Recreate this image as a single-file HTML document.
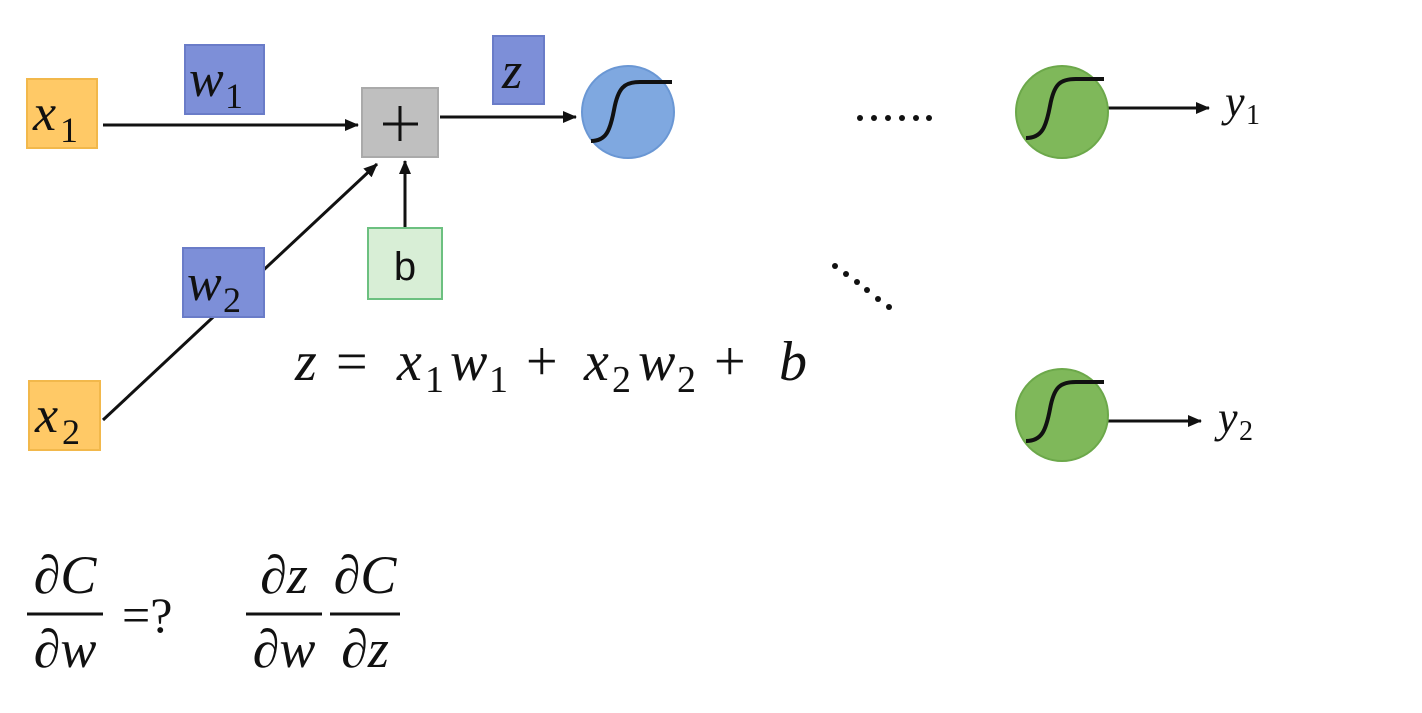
<!DOCTYPE html>
<html><head><meta charset="utf-8"><style>
html,body{margin:0;padding:0;background:#fff}
svg text{font-family:"Liberation Serif","DejaVu Serif",serif;fill:#111}
.i{font-style:italic}
</style></head><body>
<svg width="1422" height="708" viewBox="0 0 1422 708" xmlns="http://www.w3.org/2000/svg">
<defs>
<marker id="a" markerWidth="14" markerHeight="12" refX="13" refY="6" orient="auto" markerUnits="userSpaceOnUse"><path d="M0,0 L14,6 L0,12 z" fill="#111"/></marker>
</defs>
<line x1="103" y1="125" x2="358" y2="125" stroke="#111" stroke-width="3" marker-end="url(#a)"/>
<line x1="440" y1="117" x2="576" y2="117" stroke="#111" stroke-width="3" marker-end="url(#a)"/>
<line x1="405" y1="228" x2="405" y2="161" stroke="#111" stroke-width="3" marker-end="url(#a)"/>
<line x1="103" y1="420" x2="377" y2="164" stroke="#111" stroke-width="3" marker-end="url(#a)"/>
<line x1="1108" y1="108" x2="1209" y2="108" stroke="#111" stroke-width="3" marker-end="url(#a)"/>
<line x1="1108" y1="421" x2="1201" y2="421" stroke="#111" stroke-width="3" marker-end="url(#a)"/>
<rect x="27" y="79" width="70" height="69" fill="#FFC966" stroke="#F2B84B" stroke-width="2"/>
<text x="33" y="130" font-size="52" class="i">x</text><text x="60" y="142" font-size="36">1</text>
<rect x="29" y="381" width="71" height="69" fill="#FFC966" stroke="#F2B84B" stroke-width="2"/>
<text x="35" y="432" font-size="52" class="i">x</text><text x="62" y="444" font-size="36">2</text>
<rect x="185" y="45" width="79" height="69" fill="#7D8FD8" stroke="#6A7CC8" stroke-width="2"/>
<text x="189" y="96" font-size="52" class="i">w</text><text x="225" y="108" font-size="36">1</text>
<rect x="183" y="248" width="81" height="69" fill="#7D8FD8" stroke="#6A7CC8" stroke-width="2"/>
<text x="187" y="300" font-size="52" class="i">w</text><text x="223" y="312" font-size="36">2</text>
<rect x="493" y="36" width="51" height="68" fill="#7D8FD8" stroke="#6A7CC8" stroke-width="2"/>
<text x="502" y="88" font-size="52" class="i">z</text>
<rect x="362" y="88" width="76" height="69" fill="#BFBFBF" stroke="#AAAAAA" stroke-width="2"/>
<path d="M400,106 V141 M383,124 H418" stroke="#111" stroke-width="3"/>
<rect x="368" y="228" width="74" height="71" fill="#D8EED6" stroke="#6CC080" stroke-width="2"/>
<text x="405" y="280" font-size="40" text-anchor="middle" style="font-family:'Liberation Sans',sans-serif">b</text>
<circle cx="628" cy="112" r="46" fill="#7FA8E0" stroke="#6A97D4" stroke-width="2"/>
<path d="M591,141 C606,141 610,131 614,110 C618,88 624,82 640,82 L672,82" fill="none" stroke="#111" stroke-width="4"/>
<circle cx="1062" cy="112" r="46" fill="#7FB85A" stroke="#6CA84A" stroke-width="2"/>
<path d="M1026,138 C1042,138 1046,127 1050,106 C1054,84 1060,79 1076,79 L1104,79" fill="none" stroke="#111" stroke-width="4"/>
<circle cx="1062" cy="415" r="46" fill="#7FB85A" stroke="#6CA84A" stroke-width="2"/>
<path d="M1026,441 C1042,441 1046,430 1050,409 C1054,387 1060,382 1076,382 L1104,382" fill="none" stroke="#111" stroke-width="4"/>
<g fill="#111">
<circle cx="860" cy="118" r="3"/><circle cx="874" cy="118" r="3"/><circle cx="888" cy="118" r="3"/><circle cx="902" cy="118" r="3"/><circle cx="916" cy="118" r="3"/><circle cx="929" cy="118" r="3"/>
<circle cx="835" cy="266" r="3"/><circle cx="846" cy="274" r="3"/><circle cx="857" cy="282" r="3"/><circle cx="867" cy="290" r="3"/><circle cx="878" cy="299" r="3"/><circle cx="889" cy="307" r="3"/>
</g>
<text x="1225" y="116" font-size="44" class="i">y</text><text x="1246" y="124" font-size="28">1</text>
<text x="1218" y="432" font-size="44" class="i">y</text><text x="1239" y="440" font-size="28">2</text>
<text x="295" y="380" font-size="56" class="i">z</text>
<text x="336" y="380" font-size="56">=</text>
<text x="397" y="380" font-size="56" class="i">x</text><text x="425" y="392" font-size="38">1</text>
<text x="450" y="380" font-size="56" class="i">w</text><text x="489" y="392" font-size="38">1</text>
<text x="526" y="380" font-size="56">+</text>
<text x="584" y="380" font-size="56" class="i">x</text><text x="612" y="392" font-size="38">2</text>
<text x="638" y="380" font-size="56" class="i">w</text><text x="677" y="392" font-size="38">2</text>
<text x="714" y="380" font-size="56">+</text>
<text x="779" y="380" font-size="56" class="i">b</text>
<text x="65" y="593" font-size="54" class="i" text-anchor="middle">∂C</text>
<line x1="27" y1="614" x2="103" y2="614" stroke="#111" stroke-width="3"/>
<text x="65" y="667" font-size="54" class="i" text-anchor="middle">∂w</text>
<text x="122" y="632" font-size="50">=?</text>
<text x="284" y="593" font-size="54" class="i" text-anchor="middle">∂z</text>
<line x1="246" y1="614" x2="322" y2="614" stroke="#111" stroke-width="3"/>
<text x="284" y="667" font-size="54" class="i" text-anchor="middle">∂w</text>
<text x="365" y="593" font-size="54" class="i" text-anchor="middle">∂C</text>
<line x1="330" y1="614" x2="400" y2="614" stroke="#111" stroke-width="3"/>
<text x="365" y="667" font-size="54" class="i" text-anchor="middle">∂z</text>
</svg>
</body></html>
